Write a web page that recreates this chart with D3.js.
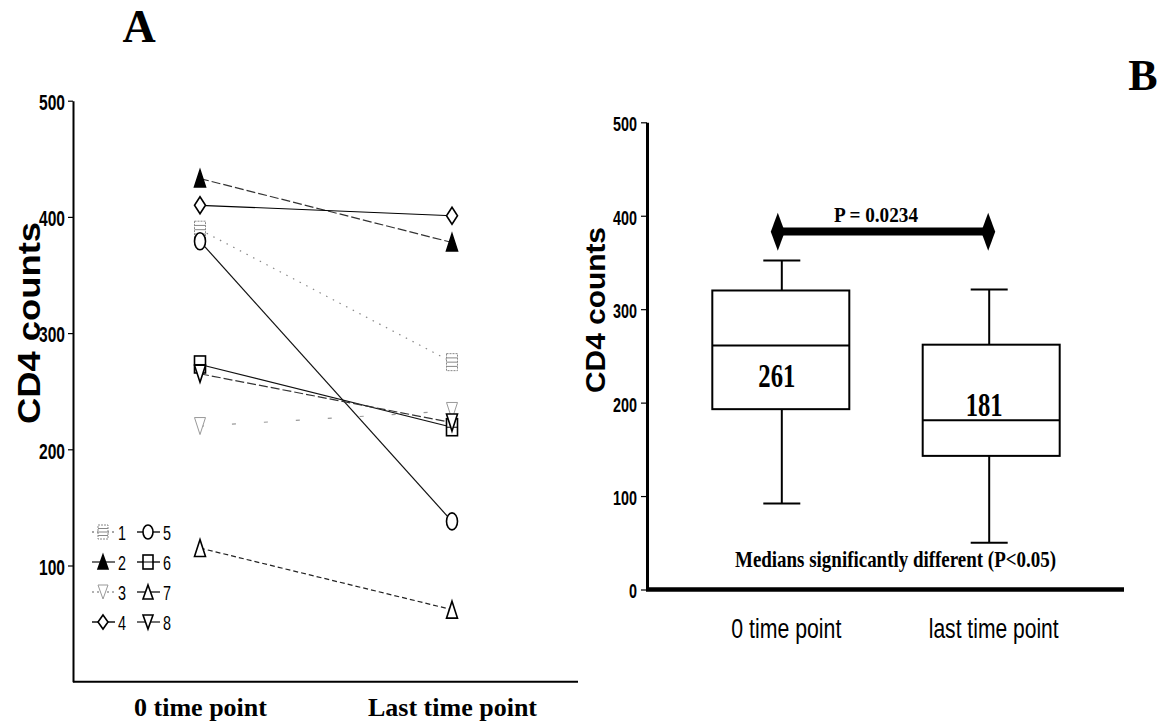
<!DOCTYPE html>
<html>
<head>
<meta charset="utf-8">
<script src="https://cdn.jsdelivr.net/npm/d3@7"></script>
<style>
body { margin: 0; background: #fff; }
</style>
</head>
<body>
<svg id="chart" width="1163" height="727"></svg>
<script>
// panel A: individual patients
var patients = ["1", "2", "3", "4", "5", "6", "7", "8"];
var timePointsA = ["0 time point", "Last time point"];
var cd4Start = [389, 433, 220, 410, 379, 273, 115, 265];
var cd4Last = [275, 378, 233, 401, 138, 219, 62, 223];
var ticksA = [100, 200, 300, 400, 500];

// panel B: box plot
var timePointsB = ["0 time point", "last time point"];
var whiskerLow = [92, 50];
var quartile1 = [193, 143];
var medians = [261, 181];
var quartile3 = [320, 262];
var whiskerHigh = [352, 321];
var ticksB = [0, 100, 200, 300, 400, 500];
var pLabel = "P = 0.0234";
var pBarLevel = 383;
var noteB = "Medians significantly different (P<0.05)";

var svg = d3.select("#chart");
var serif = "'Liberation Serif', 'Times New Roman', serif";
var narrow = "'Liberation Sans Narrow', 'Arial Narrow', 'Liberation Sans', sans-serif";
var sans = "'Liberation Sans', Arial, sans-serif";

var seriesStyle = [
    {dash: "1.5,6", color: "#888", shape: "hatch", fill: "#fff"},
    {dash: "9,3", color: "#333", shape: "triUp", fill: "#000"},
    {dash: "4,28", color: "#999", shape: "triDown", fill: "#fff"},
    {dash: null, color: "#000", shape: "diamond", fill: "#fff"},
    {dash: null, color: "#111", shape: "ellipse", fill: "#fff"},
    {dash: null, color: "#111", shape: "square", fill: "#fff"},
    {dash: "5,3", color: "#222", shape: "triUp", fill: "#fff"},
    {dash: "9,3", color: "#333", shape: "triDown", fill: "#fff"}
];

function drawMarker(g, st, cx, cy, w, h) {
    var m = g.append("g").attr("transform", "translate(" + cx + "," + cy + ")");
    var stroke = st.shape === "hatch" || st.color === "#999" ? st.color : "#000";
    if (st.shape === "ellipse") {
        m.append("ellipse").attr("rx", w / 2).attr("ry", h / 2)
            .attr("fill", st.fill).attr("stroke", stroke).attr("stroke-width", 1.6);
    } else if (st.shape === "square" || st.shape === "hatch") {
        m.append("rect").attr("x", -w / 2).attr("y", -h / 2).attr("width", w).attr("height", h)
            .attr("fill", st.fill).attr("stroke", stroke)
            .attr("stroke-width", st.shape === "hatch" ? 1 : 1.6)
            .attr("stroke-dasharray", st.shape === "hatch" ? "2,1" : null);
        var lines = st.shape === "hatch" ? [-h / 4, 0, h / 4] : [0];
        lines.forEach(function(d) {
            m.append("line").attr("x1", -w / 2).attr("x2", w / 2).attr("y1", d).attr("y2", d)
                .attr("stroke", stroke).attr("stroke-width", 1);
        });
    } else {
        var p;
        if (st.shape === "triUp") p = [[0, -h / 2], [w / 2, h / 2], [-w / 2, h / 2]];
        else if (st.shape === "triDown") p = [[0, h / 2], [w / 2, -h / 2], [-w / 2, -h / 2]];
        else p = [[0, -h / 2], [w / 2, 0], [0, h / 2], [-w / 2, 0]];
        m.append("path").attr("d", d3.line()(p) + "Z")
            .attr("fill", st.fill).attr("stroke", stroke)
            .attr("stroke-width", st.color === "#999" ? 1 : 1.6);
    }
}

// ---------- panel A ----------
var xA = d3.scalePoint().domain(timePointsA).range([74, 578]).padding(0.5);
var yA = d3.scaleLinear().domain([0, 500]).range([681.7, 100.7]);

svg.append("text").text("A").attr("x", 139).attr("y", 42)
    .attr("text-anchor", "middle").style("font", "bold 46px " + serif);

var axA = svg.append("g").attr("transform", "translate(73,0)")
    .call(d3.axisLeft(yA).tickValues(ticksA).tickSize(5).tickSizeOuter(0).tickPadding(3));
axA.select(".domain").attr("stroke-width", 2);
axA.selectAll(".tick line").attr("stroke-width", 1.2);
axA.selectAll("text").attr("dy", "0.4em").style("font", "bold 22px " + narrow)
    .attr("textLength", 26).attr("lengthAdjust", "spacingAndGlyphs");

var axAx = svg.append("g").attr("transform", "translate(0," + yA(0) + ")")
    .call(d3.axisBottom(xA).tickSize(0).tickSizeOuter(0));
axAx.select(".domain").attr("d", "M73,0H578").attr("stroke-width", 2);
axAx.selectAll("text").attr("y", 34).attr("dy", 0)
    .style("font", "bold 26px " + serif);

svg.append("text").text("CD4 counts")
    .attr("transform", "translate(40,323) rotate(-90)")
    .attr("text-anchor", "middle")
    .attr("textLength", 202).attr("lengthAdjust", "spacingAndGlyphs")
    .style("font", "bold 32px " + sans);

var linesA = svg.append("g");
patients.forEach(function(p, i) {
    var st = seriesStyle[i];
    linesA.append("line")
        .attr("x1", xA(timePointsA[0])).attr("y1", yA(cd4Start[i]))
        .attr("x2", xA(timePointsA[1])).attr("y2", yA(cd4Last[i]))
        .attr("stroke", st.color).attr("stroke-width", 1.2)
        .attr("stroke-dasharray", st.dash);
});
patients.forEach(function(p, i) {
    var st = seriesStyle[i];
    drawMarker(linesA, st, xA(timePointsA[0]), yA(cd4Start[i]), 11, 17);
    drawMarker(linesA, st, xA(timePointsA[1]), yA(cd4Last[i]), 11, 17);
});

// legend
var legend = svg.append("g");
patients.forEach(function(p, i) {
    var col = Math.floor(i / 4), row = i % 4;
    var lx = 92 + col * 45, ly = 532 + row * 30;
    var st = seriesStyle[i];
    legend.append("line").attr("x1", lx).attr("x2", lx + 23).attr("y1", ly).attr("y2", ly)
        .attr("stroke", st.color).attr("stroke-width", 1.4)
        .attr("stroke-dasharray", i === 0 || i === 2 ? "2,3" : null);
    drawMarker(legend, st, lx + 11, ly, 10, 14);
    legend.append("text").text(p).attr("x", lx + 26).attr("y", ly + 8)
        .attr("textLength", 8).attr("lengthAdjust", "spacingAndGlyphs")
        .style("font", "21px " + narrow);
});

// ---------- panel B ----------
var xB = d3.scalePoint().domain(timePointsB).range([647, 1124]).padding(0.65);
var yB = d3.scaleLinear().domain([0, 500]).range([589.5, 122.3]);
var boxW = 137, capW = 37;

svg.append("text").text("B").attr("x", 1143).attr("y", 90)
    .attr("text-anchor", "middle").style("font", "bold 44px " + serif);

var axB = svg.append("g").attr("transform", "translate(647,0)")
    .call(d3.axisLeft(yB).tickValues(ticksB).tickSize(6).tickSizeOuter(0).tickPadding(4));
axB.select(".domain").attr("stroke-width", 3);
axB.selectAll(".tick line").attr("stroke-width", 1.2);
axB.selectAll("text").attr("dy", "0.4em").style("font", "bold 21px " + narrow)
    .attr("textLength", function(d) { return String(d).length * 8; })
    .attr("lengthAdjust", "spacingAndGlyphs");

var axBx = svg.append("g").attr("transform", "translate(0," + yB(0) + ")")
    .call(d3.axisBottom(xB).tickSize(0).tickSizeOuter(0));
axBx.select(".domain").attr("d", "M646,0H1124").attr("stroke-width", 4.5);
axBx.selectAll("text").attr("y", 48).attr("dy", 0)
    .attr("dx", 4)
    .attr("textLength", function(d, i) { return i === 0 ? 110 : 130; })
    .attr("lengthAdjust", "spacingAndGlyphs")
    .style("font", "27px " + narrow);

svg.append("text").text("CD4 counts")
    .attr("transform", "translate(605,310) rotate(-90)")
    .attr("text-anchor", "middle")
    .attr("textLength", 166).attr("lengthAdjust", "spacingAndGlyphs")
    .style("font", "bold 27px " + sans);

var boxes = svg.append("g").attr("stroke", "#000").attr("stroke-width", 2);
timePointsB.forEach(function(t, i) {
    var cx = xB(t);
    boxes.append("line").attr("x1", cx).attr("x2", cx)
        .attr("y1", yB(whiskerHigh[i])).attr("y2", yB(quartile3[i]));
    boxes.append("line").attr("x1", cx).attr("x2", cx)
        .attr("y1", yB(quartile1[i])).attr("y2", yB(whiskerLow[i]));
    [whiskerHigh[i], whiskerLow[i]].forEach(function(v) {
        boxes.append("line").attr("x1", cx - capW / 2).attr("x2", cx + capW / 2)
            .attr("y1", yB(v)).attr("y2", yB(v));
    });
    boxes.append("rect").attr("x", cx - boxW / 2 + (i === 0 ? -1 : 2)).attr("width", boxW)
        .attr("y", yB(quartile3[i])).attr("height", yB(quartile1[i]) - yB(quartile3[i]))
        .attr("fill", "none");
    boxes.append("line").attr("x1", cx - boxW / 2 + (i === 0 ? -1 : 2))
        .attr("x2", cx + boxW / 2 + (i === 0 ? -1 : 2))
        .attr("y1", yB(medians[i])).attr("y2", yB(medians[i]));
    svg.append("text").text(medians[i])
        .attr("x", cx - 5).attr("y", i === 0 ? yB(medians[i]) + 41 : yB(medians[i]) - 4)
        .attr("text-anchor", "middle")
        .attr("textLength", 37).attr("lengthAdjust", "spacingAndGlyphs")
        .style("font", "bold 34px " + serif);
});

// significance bar
var barY = yB(pBarLevel);
var x0 = xB(timePointsB[0]) - 4, x1 = xB(timePointsB[1]) - 1;
svg.append("line").attr("x1", x0).attr("x2", x1).attr("y1", barY).attr("y2", barY)
    .attr("stroke", "#000").attr("stroke-width", 8);
[x0, x1].forEach(function(x) {
    svg.append("path")
        .attr("d", d3.line()([[x, barY - 19], [x + 7, barY], [x, barY + 19], [x - 7, barY]]) + "Z")
        .attr("fill", "#000");
});
svg.append("text").text(pLabel).attr("x", 876).attr("y", 222)
    .attr("text-anchor", "middle")
    .attr("textLength", 84).attr("lengthAdjust", "spacingAndGlyphs")
    .style("font", "bold 22px " + serif);

svg.append("text").text(noteB).attr("x", 735).attr("y", 567)
    .attr("textLength", 321).attr("lengthAdjust", "spacingAndGlyphs")
    .style("font", "bold 24px " + serif);
</script>
</body>
</html>
